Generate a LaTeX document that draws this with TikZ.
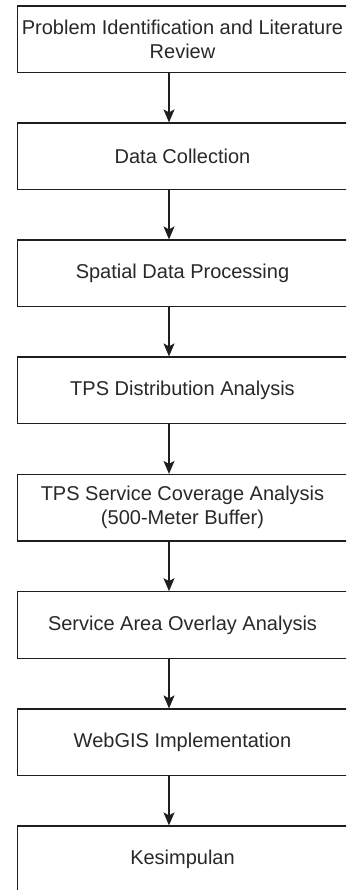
\documentclass[tikz,border=0pt]{standalone}
\usepackage{fontspec}
\setmainfont{Liberation Sans}
\usetikzlibrary{arrows.meta}
\definecolor{edge}{RGB}{30,30,30}
\definecolor{txt}{RGB}{40,40,40}
\begin{document}
\begin{tikzpicture}[x=1pt,y=-1pt,
  stepbox/.style={draw=edge, line width=1.2pt, rectangle, minimum width=330pt, minimum height=66.5pt,
    inner sep=0pt, align=center, text=txt, font=\fontsize{20}{24}\selectfont},
  arr/.style={draw=edge, line width=1.2pt, -{Stealth[length=13pt,width=11pt,inset=3pt]}}]
\useasboundingbox (0,0) rectangle (346,890);
\clip (0,0) rectangle (346,890);
\coordinate (ax) at (169,0);
\node[stepbox] (b1) at (182.5,39.25) {Problem Identification and Literature\\Review};
\node[stepbox] (b2) at (182.5,156.25) {Data Collection};
\node[stepbox] (b3) at (182.5,273.25) {Spatial Data Processing};
\node[stepbox] (b4) at (182.5,390.25) {TPS Distribution Analysis};
\node[stepbox] (b5) at (182.5,507.75) {TPS Service Coverage Analysis\\(500-Meter Buffer)};
\node[stepbox] (b6) at (182.5,625) {Service Area Overlay Analysis};
\node[stepbox] (b7) at (182.5,742.25) {WebGIS Implementation};
\node[stepbox] (b8) at (182.5,859.25) {Kesimpulan};
\draw[arr] (b1.south -| ax) -- (b2.north -| ax);
\draw[arr] (b2.south -| ax) -- (b3.north -| ax);
\draw[arr] (b3.south -| ax) -- (b4.north -| ax);
\draw[arr] (b4.south -| ax) -- (b5.north -| ax);
\draw[arr] (b5.south -| ax) -- (b6.north -| ax);
\draw[arr] (b6.south -| ax) -- (b7.north -| ax);
\draw[arr] (b7.south -| ax) -- (b8.north -| ax);
\end{tikzpicture}
\end{document}
